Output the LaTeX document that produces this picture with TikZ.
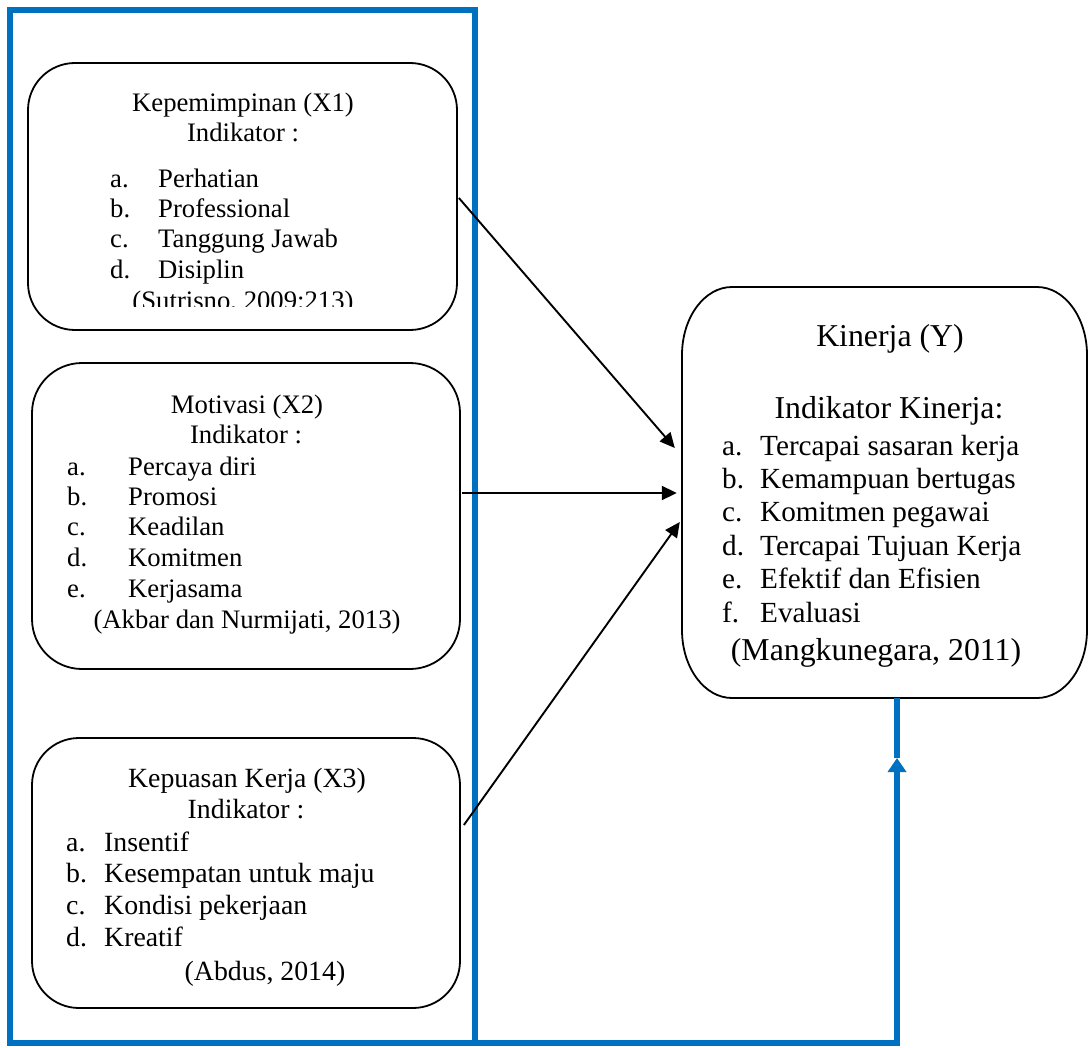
\documentclass[tikz,border=0pt]{standalone}
\usepackage{fontspec}
\setmainfont{Liberation Serif}
\usetikzlibrary{arrows.meta,calc}
\definecolor{wordblue}{RGB}{0,112,192}
\begin{document}
\begin{tikzpicture}[x=1pt,y=-1pt,
  xbox/.style={draw, line width=1.8pt, rounded corners=47pt, inner sep=0pt},
  lbl/.style={anchor=base west, inner sep=0pt},
  ctr/.style={anchor=base, inner sep=0pt},
  fx/.style={font=\fontsize{26.7pt}{30pt}\selectfont},
  fz/.style={font=\fontsize{27.8pt}{32pt}\selectfont},
  fy/.style={font=\fontsize{29.2pt}{33pt}\selectfont},
  fyh/.style={font=\fontsize{31.8pt}{35pt}\selectfont},
  conn/.style={line width=1.9pt, -{Triangle[length=15pt,width=14pt]}},
  frame/.style={draw=wordblue, line width=6pt, line join=miter}]
\useasboundingbox (0,0) rectangle (1089,1048);

% blue frame
\draw[frame] (10,10) rectangle (475,1043);

% boxes
\node[xbox, minimum width=429pt, minimum height=267pt] (X1) at (242.5,196.5) {};
\node[xbox, rounded corners=50pt, minimum width=428pt, minimum height=306pt] (X2) at (246,516) {};
\node[xbox, minimum width=428pt, minimum height=270pt] (X3) at (246,873) {};
\node[inner sep=0pt, minimum width=405pt, minimum height=411pt] (Y) at (884.5,492.5) {};
\draw[line width=1.8pt] (732,287) -- (1037,287)
  .. controls (1064.6,287) and (1087,317.4) .. (1087,355) -- (1087,630)
  .. controls (1087,667.6) and (1064.6,698) .. (1037,698) -- (732,698)
  .. controls (704.4,698) and (682,667.6) .. (682,630) -- (682,355)
  .. controls (682,317.4) and (704.4,287) .. (732,287) -- cycle;

% X1 text
\node[ctr,fx] (x1h) at (243,112) {Kepemimpinan (X1)};
\node[ctr,fx] (x1i) at (243,142) {Indikator :};
\foreach \l/\t/\yy [count=\i] in {a./Perhatian/188, b./Professional/218, c./Tanggung Jawab/248, d./Disiplin/279}{
  \node[lbl,fx] (x1l\i) at (110,\yy) {\l};
  \node[lbl,fx] (x1t\i) at (158,\yy) {\t};
}
\begin{scope}
  \clip (28,63) rectangle (457,307);
  \node[ctr,fx] (x1c) at (243,310) {(Sutrisno, 2009:213)};
\end{scope}

% X2 text
\node[ctr,fx] (x2h) at (247,413) {Motivasi (X2)};
\node[ctr,fx] (x2i) at (246,443) {Indikator :};
\foreach \l/\t/\yy [count=\i] in {a./Percaya diri/475, b./Promosi/505, c./Keadilan/535, d./Komitmen/566, e./Kerjasama/597}{
  \node[lbl,fx] (x2l\i) at (67,\yy) {\l};
  \node[lbl,fx] (x2t\i) at (128,\yy) {\t};
}
\node[ctr,fx] (x2c) at (247,628) {(Akbar dan Nurmijati, 2013)};

% X3 text
\node[ctr,fz] (x3h) at (247,787) {Kepuasan Kerja (X3)};
\node[ctr,fz] (x3i) at (246,818) {Indikator :};
\foreach \l/\t/\yy [count=\i] in {a./Insentif/851, b./Kesempatan untuk maju/882.5, c./Kondisi pekerjaan/914, d./Kreatif/946}{
  \node[lbl,fz] (x3l\i) at (66,\yy) {\l};
  \node[lbl,fz] (x3t\i) at (104,\yy) {\t};
}
\node[ctr,fz] (x3c) at (265,980) {(Abdus, 2014)};

% Y text
\node[ctr,fyh] (yh) at (890,347) {Kinerja (Y)};
\node[ctr,fyh] (yi) at (889,418) {Indikator Kinerja:};
\foreach \l/\t/\yy [count=\i] in {a./Tercapai sasaran kerja/455, b./Kemampuan bertugas/488.4, c./Komitmen pegawai/521.8, d./Tercapai Tujuan Kerja/555.2, e./Efektif dan Efisien/588.6, f./Evaluasi/622}{
  \node[lbl,fy] (yl\i) at (722,\yy) {\l};
  \node[lbl,fy] (yt\i) at (760,\yy) {\t};
}
\node[ctr,fyh] (yc) at (876,660) {(Mangkunegara, 2011)};

% black connectors
\draw[conn] ($(X1.east)+(1,1.5)$) -- ($(Y.west)+(-7,-44.5)$);
\draw[conn] ($(X2.east)+(1,-23)$) -- ($(Y.west)+(-5,0.5)$);
\draw[conn] ($(X3.east)+(3,-48)$) -- ($(Y.west)+(-2,29.5)$);

% blue feedback connector
\coordinate (fc) at (475,1043);
\coordinate (ah) at (897,758);
\coordinate (yb) at ($(Y.south)+(12.5,0)$);
\draw[frame, -{Triangle[length=14pt,width=18pt]}] (fc) -| (ah);
\draw[frame] (ah) -- (yb);
\end{tikzpicture}
\end{document}
